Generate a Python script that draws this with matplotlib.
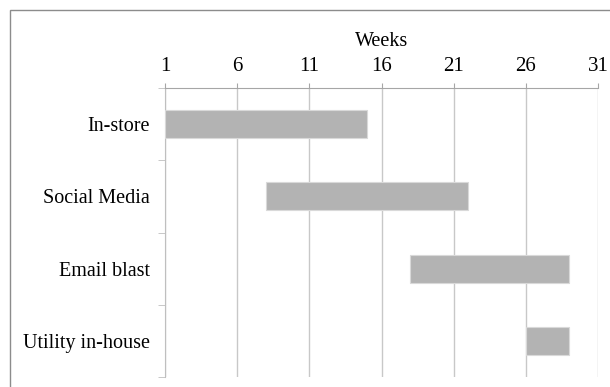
import matplotlib.pyplot as plt
from matplotlib.patches import Rectangle

tasks = ["In-store", "Social Media", "Email blast", "Utility in-house"]
start_week = [1, 8, 18, 26]
end_week = [15, 22, 29, 29]
week_ticks = [1, 6, 11, 16, 21, 26, 31]

plt.rcParams['font.family'] = ['Liberation Serif', 'DejaVu Serif']

fig = plt.figure(figsize=(6.1, 3.87), dpi=100)
ax = fig.add_axes([165 / 610, 1 - 377 / 387, 433 / 610, 289 / 387])

ypos = list(range(len(tasks)))
durations = [e - s for s, e in zip(start_week, end_week)]
ax.barh(ypos, durations, left=start_week, height=0.39, color='#b3b3b3',
        edgecolor='#d9d9d9', linewidth=0.8, zorder=3)

ax.set_xlim(week_ticks[0], week_ticks[-1])
ax.set_ylim(len(tasks) - 0.5, -0.5)
ax.xaxis.tick_top()
ax.xaxis.set_label_position('top')
ax.set_xticks(week_ticks)
ax.set_xlabel("Weeks", fontsize=14.5, labelpad=8)
ax.tick_params(axis='x', direction='out', length=3.6, color='#a6a6a6',
               labelsize=15, pad=5)
ax.grid(axis='x', color='#c8c8c8', linewidth=1, zorder=0)

ax.set_yticks(ypos)
ax.set_yticklabels(tasks, fontsize=14.5)
ax.tick_params(axis='y', which='major', length=0, pad=11)
ax.set_yticks([i + 0.5 for i in range(-1, len(tasks))], minor=True)
ax.tick_params(axis='y', which='minor', length=5, color='#bfbfbf', direction='out')

for side in ['right', 'bottom']:
    ax.spines[side].set_visible(False)
ax.spines['top'].set_color('#a6a6a6')
ax.spines['left'].set_color('#bfbfbf')

# outer frame, cut off at the right and bottom edges like the original
fig.patches.append(Rectangle((10 / 610, -0.05), 1.0, 1 - 10 / 387 + 0.05,
                             transform=fig.transFigure, fill=False,
                             edgecolor='#8c8c8c', linewidth=1))

fig.savefig("out.png", dpi=100)
